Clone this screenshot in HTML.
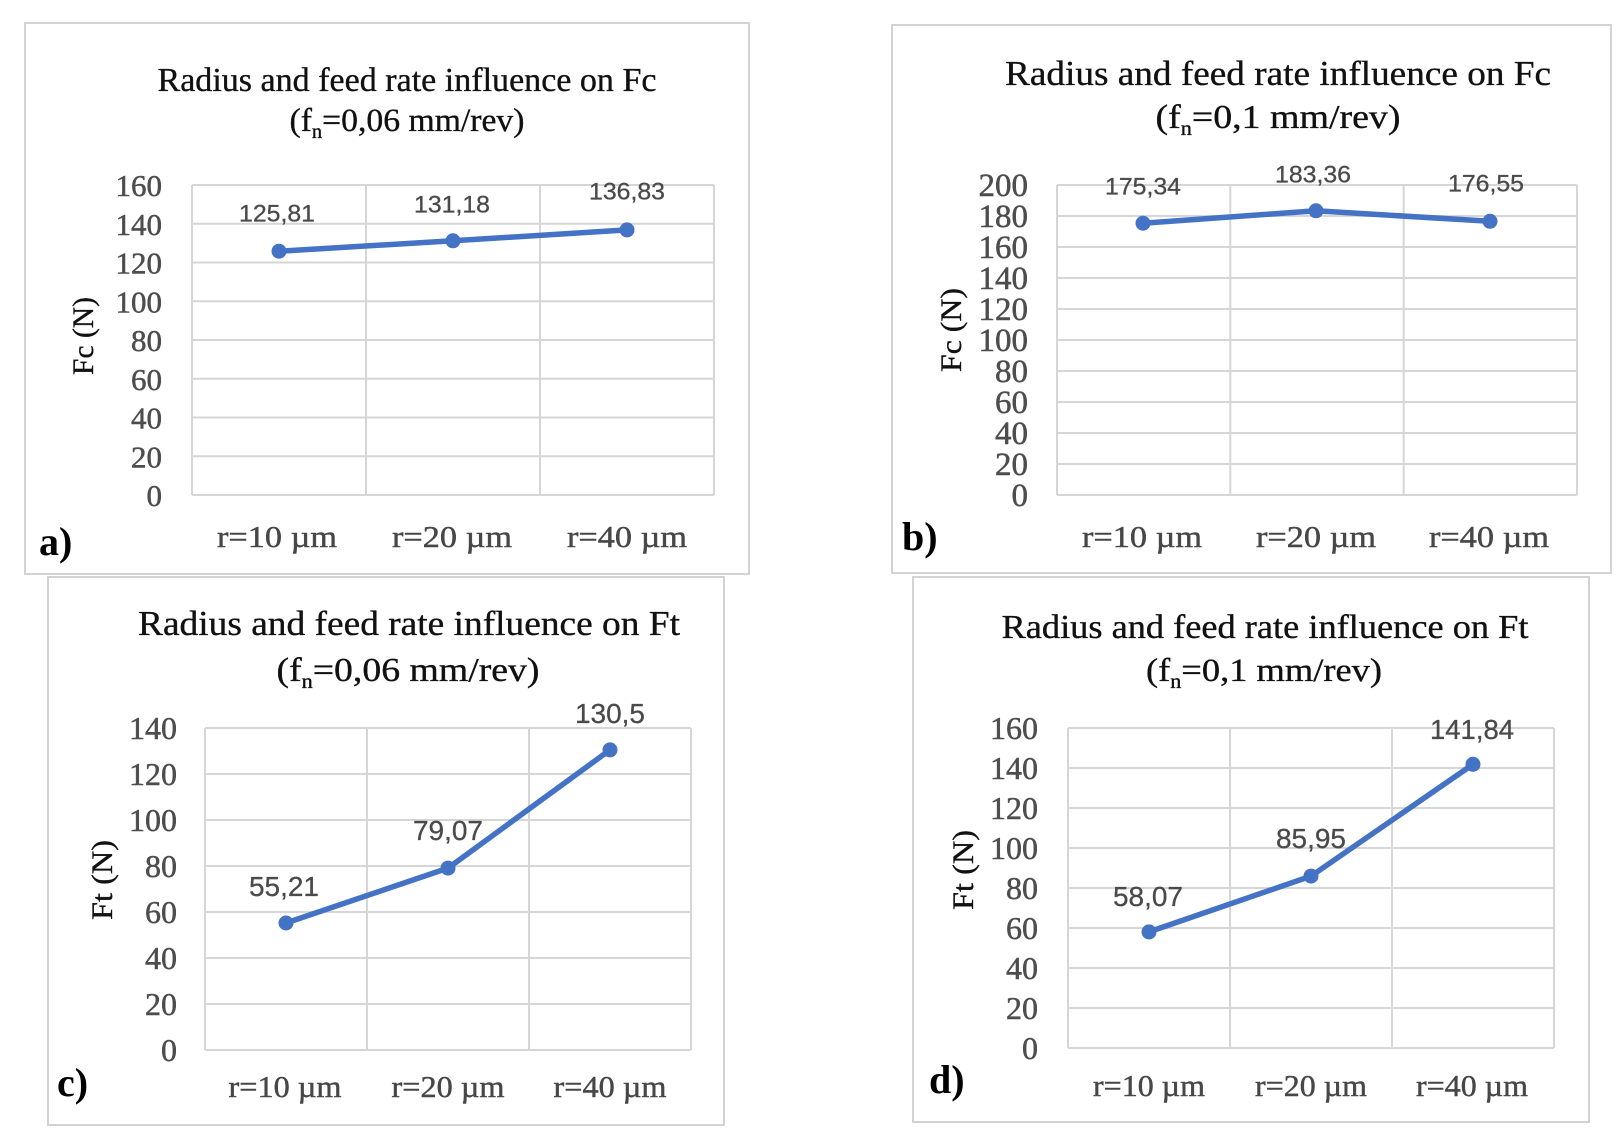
<!DOCTYPE html>
<html><head><meta charset="utf-8"><style>
html,body{margin:0;padding:0;background:#fff;}
svg{display:block;}
.t{font-family:"Liberation Serif",serif;fill:#111;stroke:#111;stroke-width:0.35;}
.tk{font-family:"Liberation Serif",serif;fill:#4d4d4d;stroke:#4d4d4d;stroke-width:0.5;font-size:31px;text-anchor:end;}
.xl{font-family:"Liberation Serif",serif;fill:#474747;stroke:#474747;stroke-width:0.45;font-size:31px;text-anchor:middle;}
.dl{font-family:"Liberation Sans",sans-serif;fill:#4a4a4a;stroke:#4a4a4a;stroke-width:0.3;text-anchor:middle;}
.yt{font-family:"Liberation Serif",serif;fill:#111;stroke:#111;stroke-width:0.35;font-size:30px;text-anchor:middle;}
.pl{font-family:"Liberation Serif",serif;fill:#000;font-size:40px;font-weight:bold;}
.g{stroke:#d6d6d6;stroke-width:2;fill:none;}
.fr{stroke:#d3d3d3;stroke-width:2;fill:#fff;}
.ln{stroke:#4472c4;stroke-width:5.5;fill:none;stroke-linejoin:round;}
.mk{fill:#4472c4;}
</style></head><body>
<svg width="1620" height="1142" viewBox="0 0 1620 1142" xmlns="http://www.w3.org/2000/svg">
<rect x="0" y="0" width="1620" height="1142" fill="#fff"/>

<!-- ============ Panel a ============ -->
<rect class="fr" x="25" y="23" width="724" height="551"/>
<text class="t" x="407" y="91" font-size="34" text-anchor="middle" textLength="499" lengthAdjust="spacingAndGlyphs">Radius and feed rate influence on Fc</text>
<text class="t" x="407" y="131" font-size="33" text-anchor="middle" textLength="235" lengthAdjust="spacingAndGlyphs">(f<tspan font-size="20" dy="7">n</tspan><tspan dy="-7">=0,06 mm/rev)</tspan></text>
<g class="g">
<line x1="192" y1="185" x2="714" y2="185"/>
<line x1="192" y1="223.75" x2="714" y2="223.75"/>
<line x1="192" y1="262.5" x2="714" y2="262.5"/>
<line x1="192" y1="301.25" x2="714" y2="301.25"/>
<line x1="192" y1="340" x2="714" y2="340"/>
<line x1="192" y1="378.75" x2="714" y2="378.75"/>
<line x1="192" y1="417.5" x2="714" y2="417.5"/>
<line x1="192" y1="456.25" x2="714" y2="456.25"/>
<line x1="192" y1="495" x2="714" y2="495"/>
<line x1="192" y1="185" x2="192" y2="495"/>
<line x1="366" y1="185" x2="366" y2="495"/>
<line x1="540" y1="185" x2="540" y2="495"/>
<line x1="714" y1="185" x2="714" y2="495"/>
</g>
<text class="tk" x="162" y="196">160</text>
<text class="tk" x="162" y="234.75">140</text>
<text class="tk" x="162" y="273.5">120</text>
<text class="tk" x="162" y="312.25">100</text>
<text class="tk" x="162" y="351">80</text>
<text class="tk" x="162" y="389.75">60</text>
<text class="tk" x="162" y="428.5">40</text>
<text class="tk" x="162" y="467.25">20</text>
<text class="tk" x="162" y="506">0</text>
<text class="yt" transform="translate(83,336) rotate(-90)" y="10" textLength="78" lengthAdjust="spacingAndGlyphs">Fc (N)</text>
<polyline class="ln" points="279,251.2 453,240.8 627,229.9"/>
<circle class="mk" cx="279" cy="251.2" r="7.5"/>
<circle class="mk" cx="453" cy="240.8" r="7.5"/>
<circle class="mk" cx="627" cy="229.9" r="7.5"/>
<text class="dl" x="277" y="221.5" font-size="24" textLength="76" lengthAdjust="spacingAndGlyphs">125,81</text>
<text class="dl" x="452" y="212.5" font-size="24" textLength="76" lengthAdjust="spacingAndGlyphs">131,18</text>
<text class="dl" x="627" y="199.5" font-size="24" textLength="76" lengthAdjust="spacingAndGlyphs">136,83</text>
<text class="xl" x="277" y="547" textLength="120" lengthAdjust="spacingAndGlyphs">r=10 µm</text>
<text class="xl" x="452" y="547" textLength="120" lengthAdjust="spacingAndGlyphs">r=20 µm</text>
<text class="xl" x="627" y="547" textLength="120" lengthAdjust="spacingAndGlyphs">r=40 µm</text>
<text class="pl" x="39" y="555">a)</text>

<!-- ============ Panel b ============ -->
<rect class="fr" x="892" y="25" width="719" height="548"/>
<text class="t" x="1278" y="85" font-size="35" text-anchor="middle" textLength="546" lengthAdjust="spacingAndGlyphs">Radius and feed rate influence on Fc</text>
<text class="t" x="1278" y="128" font-size="34" text-anchor="middle" textLength="245" lengthAdjust="spacingAndGlyphs">(f<tspan font-size="20" dy="7">n</tspan><tspan dy="-7">=0,1 mm/rev)</tspan></text>
<g class="g">
<line x1="1057" y1="185" x2="1577" y2="185"/>
<line x1="1057" y1="216" x2="1577" y2="216"/>
<line x1="1057" y1="247" x2="1577" y2="247"/>
<line x1="1057" y1="278" x2="1577" y2="278"/>
<line x1="1057" y1="309" x2="1577" y2="309"/>
<line x1="1057" y1="340" x2="1577" y2="340"/>
<line x1="1057" y1="371" x2="1577" y2="371"/>
<line x1="1057" y1="402" x2="1577" y2="402"/>
<line x1="1057" y1="433" x2="1577" y2="433"/>
<line x1="1057" y1="464" x2="1577" y2="464"/>
<line x1="1057" y1="495" x2="1577" y2="495"/>
<line x1="1057" y1="185" x2="1057" y2="495"/>
<line x1="1230.3" y1="185" x2="1230.3" y2="495"/>
<line x1="1403.7" y1="185" x2="1403.7" y2="495"/>
<line x1="1577" y1="185" x2="1577" y2="495"/>
</g>
<g style="font-size:33px">
<text class="tk" x="1028" y="196" style="font-size:33px">200</text>
<text class="tk" x="1028" y="227" style="font-size:33px">180</text>
<text class="tk" x="1028" y="258" style="font-size:33px">160</text>
<text class="tk" x="1028" y="289" style="font-size:33px">140</text>
<text class="tk" x="1028" y="320" style="font-size:33px">120</text>
<text class="tk" x="1028" y="351" style="font-size:33px">100</text>
<text class="tk" x="1028" y="382" style="font-size:33px">80</text>
<text class="tk" x="1028" y="413" style="font-size:33px">60</text>
<text class="tk" x="1028" y="444" style="font-size:33px">40</text>
<text class="tk" x="1028" y="475" style="font-size:33px">20</text>
<text class="tk" x="1028" y="506" style="font-size:33px">0</text>
</g>
<text class="yt" transform="translate(951,330) rotate(-90)" y="10" textLength="84" lengthAdjust="spacingAndGlyphs">Fc (N)</text>
<polyline class="ln" points="1143,223.2 1316,210.8 1490,221.3"/>
<circle class="mk" cx="1143" cy="223.2" r="7.5"/>
<circle class="mk" cx="1316" cy="210.8" r="7.5"/>
<circle class="mk" cx="1490" cy="221.3" r="7.5"/>
<text class="dl" x="1143" y="194.5" font-size="24" textLength="76" lengthAdjust="spacingAndGlyphs">175,34</text>
<text class="dl" x="1313" y="182.5" font-size="24" textLength="76" lengthAdjust="spacingAndGlyphs">183,36</text>
<text class="dl" x="1486" y="191.5" font-size="24" textLength="76" lengthAdjust="spacingAndGlyphs">176,55</text>
<text class="xl" x="1142" y="547" textLength="120" lengthAdjust="spacingAndGlyphs">r=10 µm</text>
<text class="xl" x="1316" y="547" textLength="120" lengthAdjust="spacingAndGlyphs">r=20 µm</text>
<text class="xl" x="1489" y="547" textLength="120" lengthAdjust="spacingAndGlyphs">r=40 µm</text>
<text class="pl" x="902" y="550">b)</text>

<!-- ============ Panel c ============ -->
<rect class="fr" x="48" y="577" width="676" height="548"/>
<text class="t" x="409" y="635" font-size="35" text-anchor="middle" textLength="542" lengthAdjust="spacingAndGlyphs">Radius and feed rate influence on Ft</text>
<text class="t" x="408" y="681" font-size="34" text-anchor="middle" textLength="263" lengthAdjust="spacingAndGlyphs">(f<tspan font-size="20" dy="7">n</tspan><tspan dy="-7">=0,06 mm/rev)</tspan></text>
<g class="g">
<line x1="205" y1="728" x2="691" y2="728"/>
<line x1="205" y1="774" x2="691" y2="774"/>
<line x1="205" y1="820" x2="691" y2="820"/>
<line x1="205" y1="866" x2="691" y2="866"/>
<line x1="205" y1="912" x2="691" y2="912"/>
<line x1="205" y1="958" x2="691" y2="958"/>
<line x1="205" y1="1004" x2="691" y2="1004"/>
<line x1="205" y1="1050" x2="691" y2="1050"/>
<line x1="205" y1="728" x2="205" y2="1050"/>
<line x1="367" y1="728" x2="367" y2="1050"/>
<line x1="529" y1="728" x2="529" y2="1050"/>
<line x1="691" y1="728" x2="691" y2="1050"/>
</g>
<text class="tk" x="177" y="739" style="font-size:32px">140</text>
<text class="tk" x="177" y="785" style="font-size:32px">120</text>
<text class="tk" x="177" y="831" style="font-size:32px">100</text>
<text class="tk" x="177" y="877" style="font-size:32px">80</text>
<text class="tk" x="177" y="923" style="font-size:32px">60</text>
<text class="tk" x="177" y="969" style="font-size:32px">40</text>
<text class="tk" x="177" y="1015" style="font-size:32px">20</text>
<text class="tk" x="177" y="1061" style="font-size:32px">0</text>
<text class="yt" transform="translate(102,880) rotate(-90)" y="10" textLength="80" lengthAdjust="spacingAndGlyphs">Ft (N)</text>
<polyline class="ln" points="286,923 448,868.1 610,749.9"/>
<circle class="mk" cx="286" cy="923" r="7.5"/>
<circle class="mk" cx="448" cy="868.1" r="7.5"/>
<circle class="mk" cx="610" cy="749.9" r="7.5"/>
<text class="dl" x="284" y="896" font-size="28" textLength="70" lengthAdjust="spacingAndGlyphs">55,21</text>
<text class="dl" x="448" y="840" font-size="28" textLength="70" lengthAdjust="spacingAndGlyphs">79,07</text>
<text class="dl" x="610" y="723" font-size="28" textLength="70" lengthAdjust="spacingAndGlyphs">130,5</text>
<text class="xl" x="285" y="1097" textLength="113" lengthAdjust="spacingAndGlyphs">r=10 µm</text>
<text class="xl" x="448" y="1097" textLength="113" lengthAdjust="spacingAndGlyphs">r=20 µm</text>
<text class="xl" x="610" y="1097" textLength="113" lengthAdjust="spacingAndGlyphs">r=40 µm</text>
<text class="pl" x="57" y="1096">c)</text>

<!-- ============ Panel d ============ -->
<rect class="fr" x="913" y="577" width="676" height="545"/>
<text class="t" x="1265" y="638" font-size="34" text-anchor="middle" textLength="527" lengthAdjust="spacingAndGlyphs">Radius and feed rate influence on Ft</text>
<text class="t" x="1264" y="681" font-size="33" text-anchor="middle" textLength="236" lengthAdjust="spacingAndGlyphs">(f<tspan font-size="20" dy="7">n</tspan><tspan dy="-7">=0,1 mm/rev)</tspan></text>
<g class="g">
<line x1="1068" y1="728" x2="1554" y2="728"/>
<line x1="1068" y1="768" x2="1554" y2="768"/>
<line x1="1068" y1="808" x2="1554" y2="808"/>
<line x1="1068" y1="848" x2="1554" y2="848"/>
<line x1="1068" y1="888" x2="1554" y2="888"/>
<line x1="1068" y1="928" x2="1554" y2="928"/>
<line x1="1068" y1="968" x2="1554" y2="968"/>
<line x1="1068" y1="1008" x2="1554" y2="1008"/>
<line x1="1068" y1="1048" x2="1554" y2="1048"/>
<line x1="1068" y1="728" x2="1068" y2="1048"/>
<line x1="1230" y1="728" x2="1230" y2="1048"/>
<line x1="1392" y1="728" x2="1392" y2="1048"/>
<line x1="1554" y1="728" x2="1554" y2="1048"/>
</g>
<text class="tk" x="1038" y="739" style="font-size:32px">160</text>
<text class="tk" x="1038" y="779" style="font-size:32px">140</text>
<text class="tk" x="1038" y="819" style="font-size:32px">120</text>
<text class="tk" x="1038" y="859" style="font-size:32px">100</text>
<text class="tk" x="1038" y="899" style="font-size:32px">80</text>
<text class="tk" x="1038" y="939" style="font-size:32px">60</text>
<text class="tk" x="1038" y="979" style="font-size:32px">40</text>
<text class="tk" x="1038" y="1019" style="font-size:32px">20</text>
<text class="tk" x="1038" y="1059" style="font-size:32px">0</text>
<text class="yt" transform="translate(963,870) rotate(-90)" y="10" textLength="80" lengthAdjust="spacingAndGlyphs">Ft (N)</text>
<polyline class="ln" points="1149,931.9 1311,876.1 1473,764.3"/>
<circle class="mk" cx="1149" cy="931.9" r="7.5"/>
<circle class="mk" cx="1311" cy="876.1" r="7.5"/>
<circle class="mk" cx="1473" cy="764.3" r="7.5"/>
<text class="dl" x="1148" y="906" font-size="28" textLength="70" lengthAdjust="spacingAndGlyphs">58,07</text>
<text class="dl" x="1311" y="848" font-size="28" textLength="70" lengthAdjust="spacingAndGlyphs">85,95</text>
<text class="dl" x="1472" y="739" font-size="28" textLength="84" lengthAdjust="spacingAndGlyphs">141,84</text>
<text class="xl" x="1149" y="1096" textLength="112" lengthAdjust="spacingAndGlyphs">r=10 µm</text>
<text class="xl" x="1311" y="1096" textLength="112" lengthAdjust="spacingAndGlyphs">r=20 µm</text>
<text class="xl" x="1472" y="1096" textLength="112" lengthAdjust="spacingAndGlyphs">r=40 µm</text>
<text class="pl" x="929" y="1093">d)</text>
</svg>
</body></html>
